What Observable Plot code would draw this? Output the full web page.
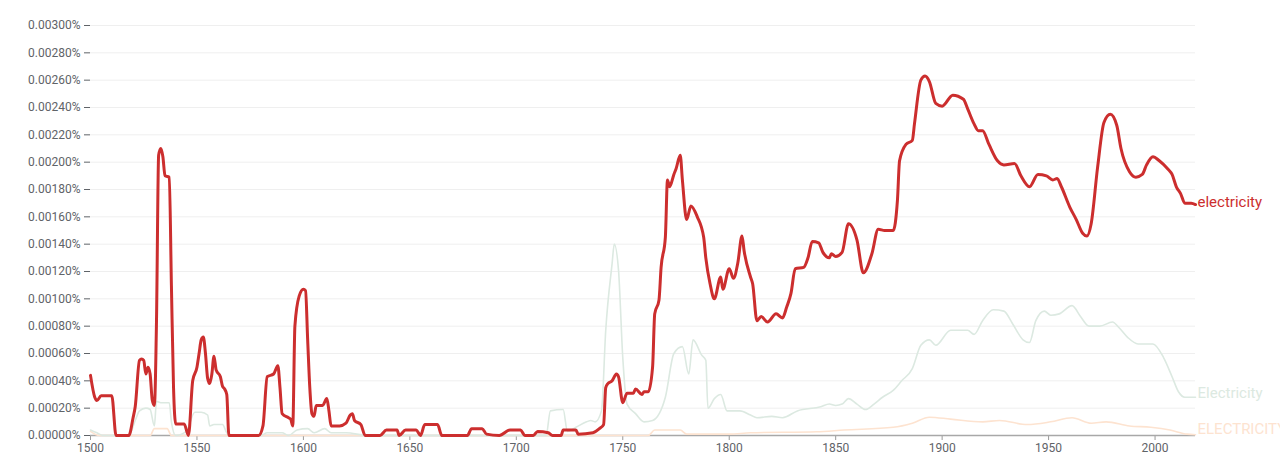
<!DOCTYPE html>
<html>
<head>
<meta charset="utf-8">
<script src="https://cdn.jsdelivr.net/npm/d3@7"></script>
<script src="https://cdn.jsdelivr.net/npm/@observablehq/plot@0.6"></script>
<style>
  html, body { margin: 0; padding: 0; background: #fff; }
  #chart { width: 1280px; height: 460px; overflow: hidden; }
</style>
</head>
<body>
<div id="chart"></div>
<script>
// Series names
const seriesNames = ["electricity", "Electricity", "ELECTRICITY"];

// "electricity" (values in percent)
const redYears = [1500,1502,1503,1505,1510,1512,1518,1520,1521,1523,1524,1525,1526,1527,1528,1529,1530,1531,1532,1533,1534,1535,1537,1538,1539,1540,1544,1546,1548,1550,1551,1552,1553,1554,1555,1556,1557,1558,1559,1561,1562,1563,1564,1565,1579,1581,1583,1586,1588,1589,1590,1593,1594,1595,1596,1598,1600,1601,1602,1603,1604,1605,1606,1609,1611,1612,1613,1617,1620,1622,1623,1624,1627,1629,1636,1639,1644,1645,1648,1653,1655,1657,1663,1665,1677,1679,1684,1686,1692,1697,1702,1704,1708,1710,1715,1717,1721,1722,1728,1729,1736,1739,1741,1742,1743,1745,1747,1748,1750,1752,1755,1756,1759,1760,1762,1764,1765,1767,1768,1770,1771,1772,1774,1775,1777,1778,1780,1782,1785,1788,1789,1791,1793,1796,1797,1800,1802,1804,1806,1807,1810,1811,1813,1815,1818,1822,1825,1827,1829,1831,1835,1837,1839,1842,1844,1847,1848,1850,1853,1856,1860,1863,1867,1870,1873,1877,1879,1880,1883,1886,1887,1890,1892,1894,1897,1900,1905,1910,1912,1915,1917,1919,1922,1926,1929,1934,1937,1941,1945,1949,1952,1954,1956,1960,1963,1966,1968,1970,1973,1976,1979,1982,1984,1988,1991,1994,1996,1999,2002,2006,2008,2010,2012,2014,2017,2019];
const redValues = [0.00044,0.00028,0.000256,0.00029,0.00029,0,0,0.00013,0.00021,0.00055,0.00056,0.00055,0.00045,0.0005,0.00045,0.00026,0.00022,0.00084,0.00205,0.0021,0.00204,0.0019,0.00189,0.0011,0.00035,0.000085,0.000085,0,0.0004,0.0005,0.0006,0.0007,0.00072,0.0006,0.00042,0.00038,0.00045,0.00058,0.00048,0.00043,0.00036,0.00034,0.0003,0,0,0.00007,0.00043,0.00045,0.00051,0.00035,0.00016,0.00013,0.00012,0.00007,0.0008,0.00102,0.00107,0.00106,0.0007,0.00035,0.00016,0.00014,0.00022,0.00022,0.00027,0.00018,0.00007,0.00007,0.00009,0.00015,0.00016,0.00011,0.00008,0,0,0.00004,0.00004,0,0.00004,0.00004,0,0.00008,0.00008,0,0,0.00005,0.00005,0.00001,0,0.00004,0.00004,0,0,0.00003,0.00002,0,0,0.00004,0.00004,0.00001,0.00002,0.00005,0.00008,0.00035,0.00038,0.0004,0.00045,0.00043,0.00024,0.00031,0.00031,0.00034,0.0003,0.00032,0.00032,0.0005,0.00089,0.00099,0.00123,0.00145,0.00187,0.00182,0.00191,0.00195,0.00205,0.00187,0.00158,0.00168,0.0016,0.00145,0.0013,0.00111,0.001,0.00116,0.00107,0.00122,0.00115,0.00126,0.00146,0.00135,0.00116,0.00111,0.00084,0.00087,0.00083,0.00089,0.00086,0.00094,0.00104,0.00122,0.00123,0.0013,0.00142,0.00141,0.00134,0.0013,0.00133,0.00131,0.00134,0.00155,0.00143,0.00119,0.00133,0.00151,0.0015,0.0015,0.00172,0.00201,0.00213,0.00216,0.00228,0.0026,0.00263,0.00259,0.00243,0.00241,0.00249,0.00246,0.00239,0.00228,0.00223,0.00223,0.00213,0.00201,0.00198,0.00199,0.0019,0.00182,0.00191,0.0019,0.00187,0.00188,0.00182,0.00167,0.00158,0.00148,0.00146,0.00155,0.00196,0.00229,0.00235,0.00227,0.0021,0.00193,0.00189,0.00191,0.00198,0.00204,0.00201,0.00195,0.00191,0.00182,0.00177,0.0017,0.0017,0.00169];

// "Electricity"
const greenYears = [1500,1503,1506,1518,1521,1523,1526,1528,1530,1531,1533,1537,1538,1540,1545,1549,1552,1555,1556,1558,1562,1564,1566,1580,1583,1590,1593,1597,1602,1605,1610,1613,1620,1630,1714,1716,1722,1724,1728,1733,1735,1737,1740,1742,1745,1746,1748,1750,1752,1756,1760,1764,1770,1774,1778,1781,1783,1787,1789,1790,1793,1796,1799,1805,1810,1813,1820,1825,1832,1843,1847,1850,1853,1856,1860,1864,1868,1872,1877,1881,1886,1890,1894,1897,1904,1912,1915,1919,1924,1929,1933,1938,1941,1944,1948,1951,1955,1961,1965,1969,1974,1980,1983,1987,1992,1999,2004,2008,2011,2014,2019];
const greenValues = [0.00004,0.00002,0,0,0.00011,0.00018,0.0002,0.00019,0.00007,0.00025,0.00024,0.00024,0.0001,0,0.00003,0.00017,0.00017,0.00015,0.00007,0.00008,0.00008,0.00002,0,0,0.00002,0.00002,0,0.00004,0.00005,0.00002,0.00005,0.00002,0.00002,0,0,0.00018,0.00019,0.00003,0.00006,0.0001,0.00011,0.0001,0.00018,0.00077,0.00126,0.0014,0.00121,0.00057,0.00023,0.00016,0.0001,0.00011,0.00028,0.0006,0.00065,0.00045,0.0007,0.00059,0.00055,0.0002,0.00027,0.0003,0.00018,0.00018,0.00015,0.00013,0.00014,0.00013,0.00018,0.00021,0.00023,0.00022,0.00023,0.00027,0.00023,0.00019,0.00023,0.00028,0.00033,0.0004,0.00049,0.00066,0.0007,0.00066,0.00077,0.00077,0.00074,0.00084,0.00092,0.00091,0.00082,0.0007,0.00068,0.00084,0.00091,0.00088,0.00089,0.00095,0.00087,0.0008,0.0008,0.00083,0.00079,0.00072,0.00067,0.00067,0.00057,0.00043,0.00032,0.00028,0.00028];

// "ELECTRICITY"
const orangeYears = [1500,1504,1528,1530,1536,1538,1762,1765,1777,1780,1800,1810,1841,1854,1877,1886,1894,1904,1919,1927,1940,1951,1961,1970,1977,1988,1998,2007,2015,2019];
const orangeValues = [0.00003,0,0,0.00005,0.00005,0,0,0.00004,0.00004,0.00001,0.00001,0.00002,0.000027,0.00004,0.00006,0.00009,0.000134,0.00012,0.0001,0.00011,0.00008,0.0001,0.00013,0.00009,0.0001,0.00007,0.00006,0.00004,0.00001,0.000005];

// Axis ticks
const yTicks = [0,0.0002,0.0004,0.0006,0.0008,0.001,0.0012,0.0014,0.0016,0.0018,0.002,0.0022,0.0024,0.0026,0.0028,0.003];
const xTicks = [1500,1550,1600,1650,1700,1750,1800,1850,1900,1950,2000];

const colors = ["#cc2e2e", "#dce9e1", "#fde3d0"];

const toRows = (ys, vs, name) => ys.map((y, i) => ({year: y, value: vs[i], series: name}));
const red = toRows(redYears, redValues, seriesNames[0]);
const green = toRows(greenYears, greenValues, seriesNames[1]);
const orange = toRows(orangeYears, orangeValues, seriesNames[2]);

const chart = Plot.plot({
  width: 1280,
  height: 460,
  marginLeft: 90,
  marginRight: 85,
  marginTop: 25,
  marginBottom: 25,
  style: {fontFamily: "Roboto, 'Noto Sans', sans-serif", fontSize: "12px", color: "#5f6368", background: "#fff", overflow: "hidden"},
  x: {domain: [1500, 2019]},
  y: {domain: [0, 0.003]},
  marks: [
    Plot.gridY(yTicks.slice(1), {stroke: "#efefef", strokeOpacity: 1, strokeWidth: 1}),
    Plot.axisY({ticks: yTicks, tickSize: 6, tickPadding: 4, tickFormat: d => d.toFixed(5) + "%", stroke: "#5f6368", fill: "#5f6368", fontSize: 12, label: null}),
    Plot.axisX({ticks: xTicks, tickSize: 5, tickPadding: 3, tickFormat: d => String(d), stroke: "#999", fill: "#5f6368", fontSize: 12, label: null}),
    Plot.ruleY([0], {stroke: "#a8a8a8", strokeWidth: 1.5}),
    Plot.line(orange, {x: "year", y: "value", stroke: colors[2], strokeWidth: 1.6, curve: "monotone-x"}),
    Plot.line(green, {x: "year", y: "value", stroke: colors[1], strokeWidth: 1.6, curve: "monotone-x"}),
    Plot.line(red, {x: "year", y: "value", stroke: colors[0], strokeWidth: 3, curve: "monotone-x", strokeLinejoin: "round"}),
    Plot.text([red[red.length - 1]], {x: "year", y: "value", text: "series", fill: colors[0], textAnchor: "start", dx: 2, dy: -2, fontSize: 15}),
    Plot.text([green[green.length - 1]], {x: "year", y: "value", text: "series", fill: colors[1], textAnchor: "start", dx: 2, dy: -4, fontSize: 15}),
    Plot.text([orange[orange.length - 1]], {x: "year", y: "value", text: "series", fill: colors[2], textAnchor: "start", dx: 2, dy: -6, fontSize: 15})
  ]
});
document.getElementById("chart").appendChild(chart);
</script>
</body>
</html>
